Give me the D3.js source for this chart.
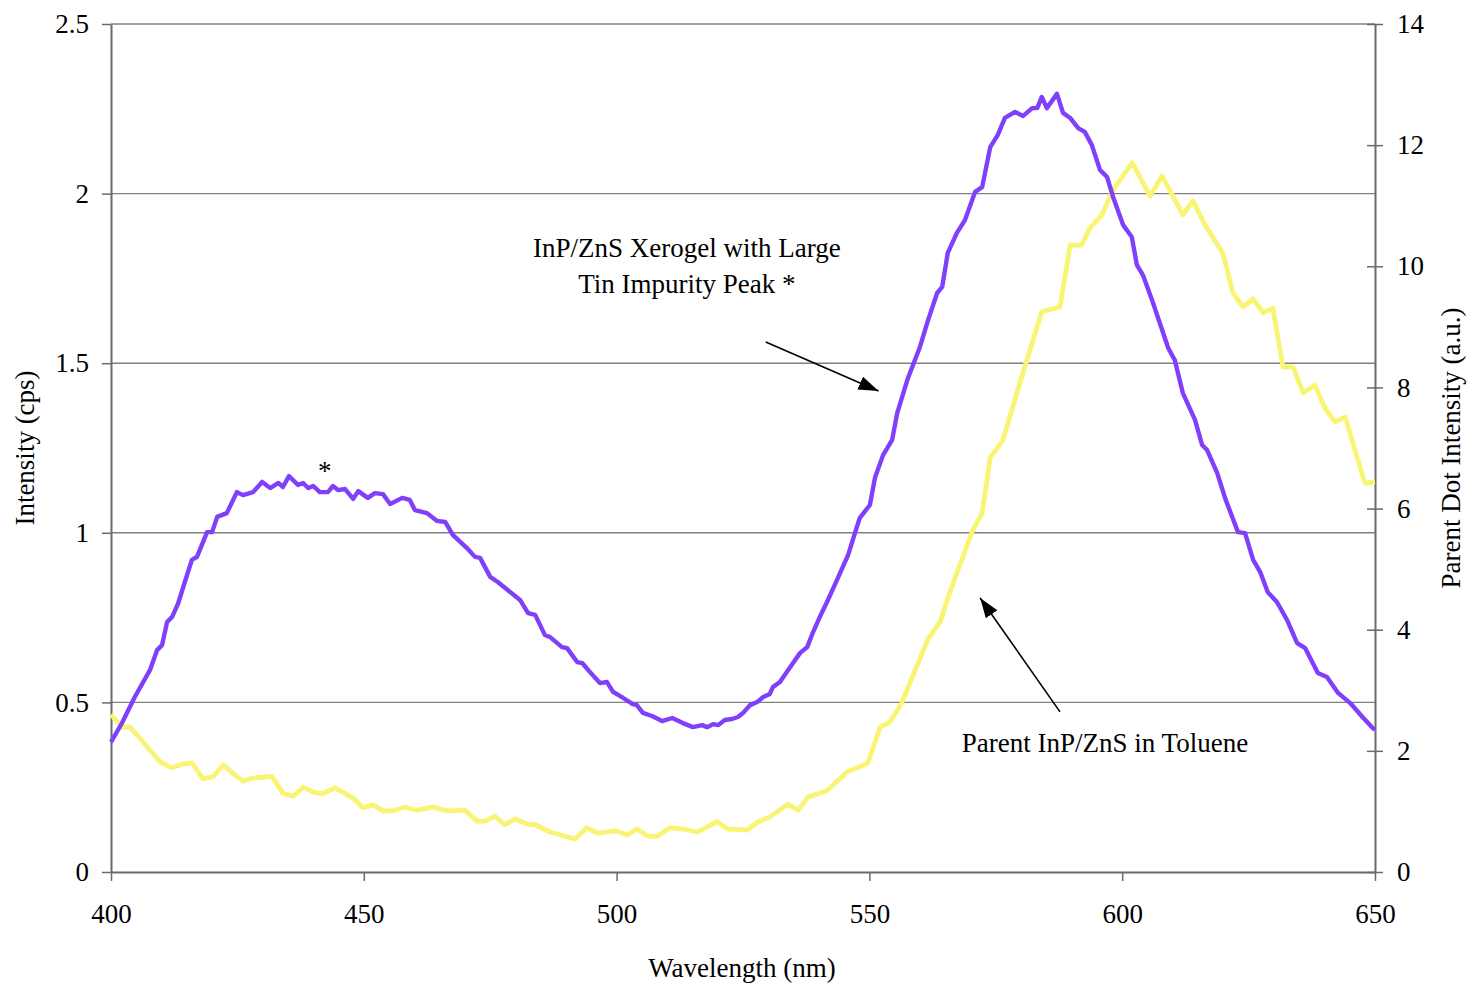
<!DOCTYPE html>
<html>
<head>
<meta charset="utf-8">
<script src="https://cdn.jsdelivr.net/npm/d3@7"></script>
<style>
  html, body { margin: 0; padding: 0; background: #fff; }
  svg { display: block; }
  text { font-family: "Liberation Serif", "Times New Roman", serif; fill: #000; }
</style>
</head>
<body>
<svg id="chart" width="1471" height="983"></svg>
<script>
// Emission spectrum of the xerogel sample (left axis, cps)
const xerogelWl = [400.0,402.2,404.7,407.7,409.1,410.1,411.1,412.1,413.3,414.6,416.0,417.0,419.0,420.0,421.0,422.9,424.9,426.1,428.1,429.9,431.5,433.1,434.0,435.2,437.0,438.0,439.0,440.0,441.3,442.9,443.9,444.9,446.3,447.9,448.9,450.8,452.2,453.8,455.2,457.6,459.1,460.1,462.5,464.5,466.1,467.6,470.4,472.0,473.0,475.0,476.5,480.9,482.5,483.9,485.8,486.8,489.2,490.2,492.2,493.2,494.7,496.7,498.1,499.3,501.3,503.2,504.0,505.2,507.0,509.0,511.0,513.1,515.1,516.9,517.9,519.1,520.1,521.4,522.8,524.0,525.0,526.4,527.8,529.0,530.3,530.9,532.3,534.9,536.3,537.7,538.8,540.2,541.8,543.6,545.8,547.2,548.1,550.1,551.1,552.7,554.5,555.5,557.6,560.0,561.6,563.4,564.4,565.5,567.3,568.9,570.9,572.3,573.9,575.4,576.8,578.8,580.4,582.2,583.2,584.1,585.1,587.1,588.3,589.7,591.3,592.6,594.0,595.6,597.0,598.2,600.2,601.9,602.9,604.1,605.9,607.9,609.1,610.4,612.0,614.4,615.8,616.8,618.8,620.4,622.9,624.3,625.9,627.3,628.8,630.6,632.6,634.6,636.2,638.7,640.5,642.7,645.1,647.7,649.5,650.0];
const xerogelI = [0.383,0.44,0.516,0.595,0.654,0.669,0.737,0.752,0.793,0.855,0.92,0.929,1.002,1.002,1.047,1.058,1.12,1.111,1.12,1.15,1.132,1.147,1.135,1.167,1.141,1.147,1.132,1.138,1.12,1.12,1.138,1.126,1.129,1.10,1.123,1.103,1.117,1.114,1.085,1.103,1.097,1.067,1.058,1.035,1.032,0.994,0.955,0.929,0.926,0.87,0.855,0.802,0.763,0.758,0.699,0.693,0.663,0.660,0.619,0.616,0.59,0.557,0.56,0.531,0.513,0.495,0.492,0.469,0.46,0.445,0.454,0.439,0.427,0.433,0.427,0.436,0.433,0.448,0.451,0.457,0.469,0.492,0.501,0.516,0.525,0.545,0.56,0.616,0.646,0.663,0.705,0.752,0.802,0.861,0.935,1.002,1.044,1.082,1.162,1.229,1.274,1.353,1.455,1.548,1.627,1.707,1.725,1.825,1.884,1.922,2.005,2.019,2.137,2.173,2.223,2.241,2.229,2.252,2.252,2.285,2.252,2.294,2.238,2.223,2.193,2.182,2.143,2.07,2.049,1.99,1.907,1.872,1.79,1.76,1.686,1.598,1.545,1.509,1.412,1.333,1.259,1.244,1.176,1.10,1.002,0.999,0.92,0.884,0.825,0.796,0.743,0.675,0.66,0.587,0.575,0.528,0.498,0.454,0.425,0.419];

// Emission spectrum of the parent dots in toluene (right axis, a.u.)
const parentWl = [400.0,402.2,403.8,406.3,409.7,412.1,414.0,416.0,418.2,420.2,422.2,424.1,426.1,428.1,431.8,434.0,436.0,438.0,440.0,441.9,444.3,447.9,449.8,451.8,453.8,455.8,458.1,460.5,463.7,466.5,470.0,472.4,474.0,475.9,477.9,479.9,482.3,483.9,486.8,491.8,494.1,496.3,499.7,502.1,504.0,506.2,508.0,510.6,513.1,515.9,519.9,522.0,525.8,528.0,530.3,533.9,535.9,537.9,541.6,545.6,549.7,552.1,554.1,556.4,561.6,564.0,565.9,570.3,572.3,573.9,576.4,580.0,584.1,587.7,589.7,592.0,593.6,596.0,598.2,602.0,605.5,607.9,612.0,614.0,616.4,619.9,621.9,623.9,625.9,627.9,629.8,631.8,633.8,635.8,638.1,640.1,642.1,644.1,648.0,650.0];
const parentI = [2.6,2.39,2.39,2.15,1.82,1.72,1.78,1.80,1.54,1.57,1.77,1.63,1.50,1.55,1.58,1.30,1.25,1.40,1.32,1.29,1.39,1.22,1.06,1.11,1.01,1.01,1.07,1.02,1.07,1.01,1.02,0.84,0.84,0.92,0.78,0.875,0.79,0.78,0.66,0.545,0.73,0.64,0.68,0.61,0.71,0.59,0.59,0.73,0.71,0.66,0.83,0.71,0.69,0.83,0.91,1.12,1.02,1.24,1.34,1.65,1.80,2.39,2.48,2.79,3.85,4.13,4.62,5.61,5.93,6.84,7.13,8.14,9.25,9.33,10.35,10.35,10.63,10.85,11.26,11.71,11.16,11.49,10.85,11.08,10.68,10.22,9.56,9.33,9.46,9.23,9.31,8.34,8.34,7.91,8.04,7.66,7.43,7.51,6.42,6.44];

const xTicks = [400, 450, 500, 550, 600, 650];
const leftTicks = [0, 0.5, 1, 1.5, 2, 2.5];
const rightTicks = [0, 2, 4, 6, 8, 10, 12, 14];

const svg = d3.select("#chart");
const W = 1471, H = 983;
const m = { top: 24, right: 96, bottom: 111, left: 111 };
const FS = 27;

const x = d3.scaleLinear().domain([400, 650]).range([m.left, W - m.right]);
const yL = d3.scaleLinear().domain([0, 2.5]).range([H - m.bottom, m.top]);
const yR = d3.scaleLinear().domain([0, 14]).range([H - m.bottom, m.top]);

// horizontal gridlines on the left-axis ticks
svg.append("g")
  .selectAll("line")
  .data(leftTicks.filter(d => d > 0))
  .join("line")
  .attr("x1", x(400)).attr("x2", x(650))
  .attr("y1", d => yL(d)).attr("y2", d => yL(d))
  .attr("stroke", "#808080").attr("stroke-width", 1.4);

// axes
const axisStyle = g => {
  g.select(".domain").attr("stroke", "#6a6a6a").attr("stroke-width", 2);
  g.selectAll(".tick line").attr("stroke", "#6a6a6a").attr("stroke-width", 1.5);
  g.selectAll(".tick text").attr("font-size", FS).attr("font-family", "Liberation Serif, serif").attr("fill", "#000");
};

svg.append("g")
  .attr("transform", `translate(0,${H - m.bottom})`)
  .call(d3.axisBottom(x).tickValues(xTicks).tickFormat(d3.format("d")).tickSizeInner(9).tickSizeOuter(0).tickPadding(23))
  .call(axisStyle);

svg.append("g")
  .attr("transform", `translate(${m.left},0)`)
  .call(d3.axisLeft(yL).tickValues(leftTicks).tickFormat(d => d).tickSizeInner(9).tickSizeOuter(0).tickPadding(13))
  .call(axisStyle);

const gR = svg.append("g")
  .attr("transform", `translate(${W - m.right},0)`)
  .call(d3.axisRight(yR).tickValues(rightTicks).tickFormat(d3.format("d")).tickSizeInner(8).tickSizeOuter(0).tickPadding(14))
  .call(axisStyle);
gR.selectAll(".tick line").attr("x1", -8);

// spectra
const lineL = d3.line().x(d => x(d[0])).y(d => yL(d[1]));
const lineR = d3.line().x(d => x(d[0])).y(d => yR(d[1]));

svg.append("path")
  .datum(parentWl.map((w, i) => [w, parentI[i]]))
  .attr("d", lineR)
  .attr("fill", "none")
  .attr("stroke", "#f8f474")
  .attr("stroke-width", 4.8)
  .attr("stroke-linejoin", "round");

svg.append("path")
  .datum(xerogelWl.map((w, i) => [w, xerogelI[i]]))
  .attr("d", lineL)
  .attr("fill", "none")
  .attr("stroke", "#8040fb")
  .attr("stroke-width", 4.4)
  .attr("stroke-linejoin", "round");

// axis titles
svg.append("text")
  .attr("x", (x(400) + x(650)) / 2 - 1).attr("y", 977)
  .attr("text-anchor", "middle").attr("font-size", FS)
  .text("Wavelength (nm)");

svg.append("text")
  .attr("transform", `translate(34,${(yL(0) + yL(2.5)) / 2}) rotate(-90)`)
  .attr("text-anchor", "middle").attr("font-size", FS)
  .text("Intensity (cps)");

svg.append("text")
  .attr("transform", `translate(1460,${(yL(0) + yL(2.5)) / 2}) rotate(-90)`)
  .attr("text-anchor", "middle").attr("font-size", FS)
  .text("Parent Dot Intensity (a.u.)");

// annotations
svg.append("defs").append("marker")
  .attr("id", "head")
  .attr("viewBox", "0 0 20 14")
  .attr("refX", 20).attr("refY", 7)
  .attr("markerWidth", 20).attr("markerHeight", 14)
  .attr("markerUnits", "userSpaceOnUse")
  .attr("orient", "auto")
  .append("path").attr("d", "M0,0 L20,7 L0,14 Z").attr("fill", "#000");

const arrows = [
  { from: [529.5, 1.5625], to: [551.8, 1.418] },
  { from: [587.7, 0.472], to: [571.9, 0.808] }
];
svg.append("g").selectAll("line")
  .data(arrows)
  .join("line")
  .attr("x1", d => x(d.from[0])).attr("y1", d => yL(d.from[1]))
  .attr("x2", d => x(d.to[0])).attr("y2", d => yL(d.to[1]))
  .attr("stroke", "#000").attr("stroke-width", 1.6)
  .attr("marker-end", "url(#head)");

const note1 = svg.append("text")
  .attr("x", x(513.9)).attr("text-anchor", "middle").attr("font-size", FS);
note1.append("tspan").attr("x", x(513.9)).attr("y", yL(1.814)).text("InP/ZnS Xerogel with Large");
note1.append("tspan").attr("x", x(513.9)).attr("y", yL(1.707)).text("Tin Impurity Peak *");

svg.append("text")
  .attr("x", x(596.6)).attr("y", yL(0.355))
  .attr("text-anchor", "middle").attr("font-size", FS)
  .text("Parent InP/ZnS in Toluene");

svg.append("text")
  .attr("x", x(442.3)).attr("y", yL(1.155))
  .attr("text-anchor", "middle").attr("font-size", FS)
  .text("*");
</script>
</body>
</html>
